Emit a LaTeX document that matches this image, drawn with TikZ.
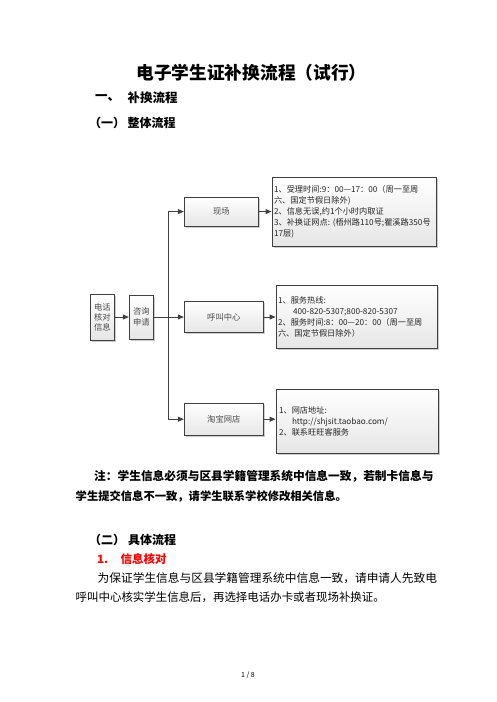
\documentclass[tikz,border=0pt]{standalone}
\usepackage{fontspec}
\setmainfont{Noto Sans CJK SC}
\usetikzlibrary{arrows.meta,shadows}
\definecolor{bord}{HTML}{404040}
\definecolor{shd}{HTML}{E6E6E6}
\newcommand{\fsz}[2]{\fontsize{#1}{#2}\selectfont}
\begin{document}
\begin{tikzpicture}[x=1pt,y=-1pt,
  box/.style={draw=bord, line width=0.9pt, top color=white, bottom color=shd,
    drop shadow={shadow xshift=1.5pt, shadow yshift=-1.5pt, opacity=0.2, fill=black},
    inner sep=0pt, align=center, font=\fsz{8.3}{10}, text=black!70},
  info/.style={box, align=left, inner xsep=2pt, inner ysep=0pt, font=\fsz{8.2}{11}, text=black!85},
  arr/.style={draw=bord, line width=0.9pt, -{Triangle[length=6pt,width=5pt]}},
  txt/.style={anchor=west, inner sep=0pt},
  hd/.style={txt, font=\fsz{12}{14}\bfseries}
]
\fill[white] (0,0) rectangle (496,702);
\useasboundingbox (0,0) rectangle (496,702);

% title and headings
\node[font=\fsz{17.7}{20}\bfseries, inner sep=0pt] (title) at (251.5,73) {电子学生证补换流程（试行）};
\node[hd, font=\fsz{12.5}{14}\bfseries] (h1a) at (95,98) {一、};
\node[hd, font=\fsz{12.5}{14}\bfseries] (h1b) at (127.5,98) {补换流程};
\node[hd] (h2a) at (89,123) {（一）};
\node[hd] (h2b) at (127.5,123) {整体流程};

% diagram
\node[box, minimum width=24pt, minimum height=46pt, font=\fsz{8.3}{10}] (dh) at (102.3,317) {电话\\核对\\信息};
\node[box, minimum width=24pt, minimum height=44pt, font=\fsz{8.3}{11}] (zx) at (141.3,317) {咨询\\申请};
\node[box, minimum width=74pt, minimum height=29pt] (xc) at (221.3,211.6) {现场};
\node[box, minimum width=79pt, minimum height=31pt] (hj) at (223.8,317) {呼叫中心};
\node[box, minimum width=79pt, minimum height=32pt] (tb) at (223.8,419.2) {淘宝网店};

\node[info, text width=160pt, minimum height=69pt] (i1) at (354,211.6)
  {1、受理时间:9：00—17：00（周一至周\\六、国定节假日除外)\\2、信息无误,约1个小时内取证\\3、补换证网点:~(梧州路110号;瞿溪路350号\\17层)};
\node[info, text width=157pt, minimum height=63pt] (i2) at (356.5,317)
  {1、服务热线:\\\hspace*{15pt}400-820-5307;800-820-5307\\2、服务时间:8：00—20：00（周一至周\\六、国定节假日除外）};
\node[info, inner xsep=3pt, text width=156pt, minimum height=64pt] (i3) at (357,421)
  {1、网店地址:\\\hspace*{13pt}http://shjsit.taobao.com/\\2、联系旺旺客服务};

\coordinate (bus) at (168.3,317);
\draw[arr] (dh) -- (zx);
\draw[arr] (zx) -- (hj);
\draw[arr] (bus) |- (xc);
\draw[arr] (bus) |- (tb);
\draw[arr] (xc) -- (i1);
\draw[arr] (hj) -- (i2);
\draw[arr] (tb.east) -- (tb.east -| i3.west);

% note
\node[txt, font=\fsz{11.7}{14}\bfseries] (n1) at (94,476) {注：学生信息必须与区县学籍管理系统中信息一致，若制卡信息与};
\node[txt, font=\fsz{11.3}{14}\bfseries] (n2) at (75.5,496) {学生提交信息不一致，请学生联系学校修改相关信息。};

% section two
\node[hd] (h3a) at (89,540) {（二）};
\node[hd] (h3b) at (128,540) {具体流程};
\node[txt, font=\fsz{11.5}{14}\bfseries, text=red] (s1a) at (97,559.5) {1.};
\node[txt, font=\fsz{11.5}{14}\bfseries, text=red] (s1b) at (120.5,559.5) {信息核对};
\node[txt, font=\fsz{11.7}{14}] (p1) at (97.5,578.5) {为保证学生信息与区县学籍管理系统中信息一致，请申请人先致电};
\node[txt, font=\fsz{11.45}{14}] (p2) at (75.5,597) {呼叫中心核实学生信息后，再选择电话办卡或者现场补换证。};

\node[font=\fsz{7}{8}, inner sep=0pt] (pg) at (248,675.5) {1 / 8};
\end{tikzpicture}
\end{document}
